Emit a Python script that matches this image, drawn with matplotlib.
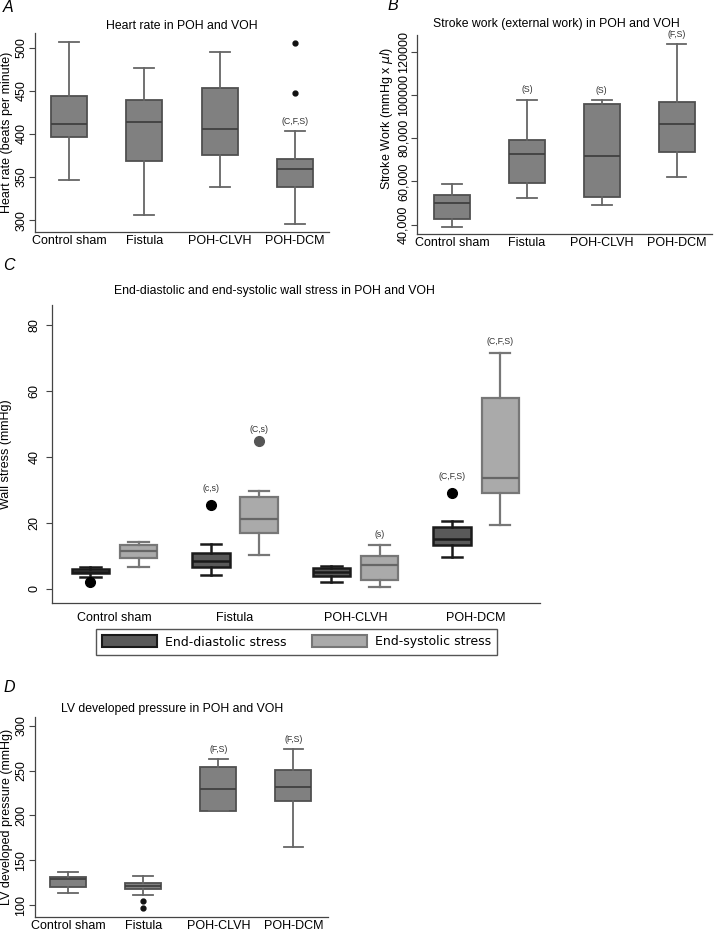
import matplotlib
matplotlib.use("Agg")
from matplotlib import pyplot as plt
from matplotlib.patches import Patch

plt.rcParams["font.family"] = ["Liberation Sans", "DejaVu Sans"]

GROUPS = ["Control sham", "Fistula", "POH-CLVH", "POH-DCM"]

# A - heart rate (beats per minute)
hr_whislo = [347, 306, 338, 296]
hr_q1 = [396, 369, 376, 338]
hr_med = [411, 414, 406, 359]
hr_q3 = [444, 439, 453, 371]
hr_whishi = [507, 477, 495, 403]
hr_fliers = [[], [], [], [447, 505]]
hr_notes = ["", "", "", "(C,F,S)"]

# B - stroke work (mmHg x ul)
sw_whislo = [39100, 52500, 49000, 62200]
sw_q1 = [42500, 59400, 52700, 73700]
sw_med = [49900, 72800, 71800, 86400]
sw_q3 = [53900, 79200, 95800, 96600]
sw_whishi = [58700, 97800, 97500, 123500]
sw_fliers = [[], [], [], []]
sw_notes = ["", "(S)", "(S)", "(F,S)"]

# C - wall stress (mmHg), end-diastolic
ed_whislo = [3.6, 4.2, 2.1, 9.7]
ed_q1 = [4.7, 6.7, 3.9, 13.2]
ed_med = [5.2, 8.5, 5.0, 15.0]
ed_q3 = [6.0, 10.9, 6.4, 18.7]
ed_whishi = [6.7, 13.6, 6.8, 20.6]
ed_fliers = [[2.0], [25.4], [], [29.1]]
ed_notes = ["", "(c,s)", "", "(C,F,S)"]

# C - wall stress (mmHg), end-systolic
es_whislo = [6.6, 10.1, 0.5, 19.4]
es_q1 = [9.2, 17.0, 2.6, 29.0]
es_med = [11.4, 21.2, 7.2, 33.6]
es_q3 = [13.3, 27.8, 9.9, 57.9]
es_whishi = [14.1, 29.6, 13.1, 71.6]
es_fliers = [[], [44.9], [], []]
es_notes = ["", "(C,s)", "(s)", "(C,F,S)"]

# D - LV developed pressure (mmHg)
lv_whislo = [113.0, 110.8, 204.5, 164.7]
lv_q1 = [120.1, 117.5, 204.5, 216.3]
lv_med = [129.4, 120.8, 229.0, 231.6]
lv_q3 = [131.2, 124.2, 253.9, 250.6]
lv_whishi = [136.8, 132.7, 262.5, 274.3]
lv_fliers = [[], [104.1, 96.3], [], []]
lv_notes = ["", "", "(F,S)", "(F,S)"]

W, H = 720, 939
GREY = "#808080"
EDGE = "#505050"


def make_stats(whislo, q1, med, q3, whishi, fliers):
    stats = []
    for i in range(len(med)):
        stats.append(dict(whislo=whislo[i], q1=q1[i], med=med[i], q3=q3[i],
                          whishi=whishi[i], fliers=fliers[i]))
    return stats


def add_axes(fig, left, top, right, bottom):
    return fig.add_axes([left / W, 1 - bottom / H, (right - left) / W, (bottom - top) / H])


def style_axes(ax, ylabel, title, title_x=0.5, title_pad=3):
    for side in ["top", "right"]:
        ax.spines[side].set_visible(False)
    for side in ["left", "bottom"]:
        ax.spines[side].set_color("#444444")
        ax.spines[side].set_linewidth(0.9)
    ax.tick_params(axis="x", length=0, labelsize=9, pad=2)
    ax.tick_params(axis="y", length=4, width=0.8, color="#444444", labelsize=9,
                   pad=1.5, labelrotation=90)
    plt.setp(ax.get_yticklabels(), va="center")
    ax.set_ylabel(ylabel, fontsize=9, labelpad=2)
    ax.set_title(title, fontsize=8.8, x=title_x, pad=title_pad)


def draw_boxes(ax, stats, positions, width, face, edge, lw, med_color, whisk_color,
               flier_color, flier_size):
    ax.bxp(stats, positions=positions, widths=width, capwidths=width * 0.55,
           patch_artist=True, showfliers=True,
           boxprops=dict(facecolor=face, edgecolor=edge, linewidth=lw),
           medianprops=dict(color=med_color, linewidth=lw),
           whiskerprops=dict(color=whisk_color, linewidth=lw),
           capprops=dict(color=whisk_color, linewidth=lw),
           flierprops=dict(marker="o", markerfacecolor=flier_color,
                           markeredgecolor=flier_color, markersize=flier_size))


def add_notes(ax, stats, positions, notes, offset=7, above_fliers=True):
    for s, x, note in zip(stats, positions, notes):
        if not note:
            continue
        top = s["whishi"]
        if above_fliers:
            top = max([top] + list(s["fliers"]))
        ax.annotate(note, (x, top), xytext=(0, offset), textcoords="offset points",
                    ha="center", va="center", fontsize=6.3, color="#333333")


def plot_simple(fig, box, data, notes, ylabel, title, ylim, yticks, yticklabels,
                xlim, title_x=0.5, title_pad=3, ylabel_y=0.5):
    ax = add_axes(fig, *box)
    stats = make_stats(*data)
    pos = [1, 2, 3, 4]
    draw_boxes(ax, stats, pos, 0.48, GREY, EDGE, 1.3, "#404040", "#666666",
               "#111111", 3.5)
    add_notes(ax, stats, pos, notes, above_fliers=False)
    ax.set_xlim(*xlim)
    ax.set_ylim(*ylim)
    ax.set_yticks(yticks)
    ax.set_yticklabels(yticklabels)
    ax.set_xticks(pos)
    ax.set_xticklabels(GROUPS)
    style_axes(ax, ylabel, title, title_x, title_pad)
    ax.yaxis.label.set_y(ylabel_y)
    return ax


def plot_wall_stress(fig):
    ax = add_axes(fig, 51.7, 305, 540, 602.7)
    ed = make_stats(ed_whislo, ed_q1, ed_med, ed_q3, ed_whishi, ed_fliers)
    es = make_stats(es_whislo, es_q1, es_med, es_q3, es_whishi, es_fliers)
    pos_ed = [i - 0.2 for i in range(4)]
    pos_es = [i + 0.2 for i in range(4)]
    draw_boxes(ax, ed, pos_ed, 0.31, "#595959", "#1a1a1a", 1.8, "#1a1a1a", "#1a1a1a",
               "#000000", 7)
    draw_boxes(ax, es, pos_es, 0.31, "#aaaaaa", "#777777", 1.6, "#666666", "#777777",
               "#555555", 7)
    add_notes(ax, ed, pos_ed, ed_notes, offset=12)
    add_notes(ax, es, pos_es, es_notes, offset=8)
    ax.set_xlim(-0.52, 3.53)
    ax.set_ylim(-4.25, 86)
    ax.set_yticks([0, 20, 40, 60, 80])
    ax.set_xticks(range(4))
    ax.set_xticklabels(GROUPS)
    style_axes(ax, "Wall stress (mmHg)", "End-diastolic and end-systolic wall stress in POH and VOH",
               title_x=0.457, title_pad=8)
    ax.tick_params(axis="x", pad=7)
    ax.tick_params(axis="y", pad=4)
    ax.yaxis.labelpad = 12

    handles = [Patch(facecolor="#595959", edgecolor="#1a1a1a", linewidth=1.5),
               Patch(facecolor="#aaaaaa", edgecolor="#777777", linewidth=1.5)]
    fig.legend(handles, ["End-diastolic stress", "End-systolic stress"],
               loc="upper left", bbox_to_anchor=(96 / W, 1 - 629 / H), ncol=2,
               fancybox=False, edgecolor="#555555", framealpha=1,
               prop={"family": "DejaVu Sans", "size": 9},
               handlelength=4.4, handleheight=1.1, handletextpad=0.65,
               columnspacing=2.0, borderpad=0.5, borderaxespad=0)


def main():
    fig = plt.figure(figsize=(W / 100, H / 100), dpi=100)

    plot_simple(fig, (35, 33, 329, 232),
                (hr_whislo, hr_q1, hr_med, hr_q3, hr_whishi, hr_fliers), hr_notes,
                "Heart rate (beats per minute)", "Heart rate in POH and VOH",
                (286.4, 517), [300, 350, 400, 450, 500],
                ["300", "350", "400", "450", "500"], (0.548, 4.45))

    plot_simple(fig, (417.3, 35, 711.7, 234),
                (sw_whislo, sw_q1, sw_med, sw_q3, sw_whishi, sw_fliers), sw_notes,
                r"Stroke Work (mmHg x $\mu l$)", "Stroke work (external work) in POH and VOH",
                (35700, 127700), [40000, 60000, 80000, 100000, 120000],
                ["40,000", "60,000", "80,000", "100000", "120000"], (0.532, 4.47),
                title_x=0.471, title_pad=6, ylabel_y=0.58)

    plot_wall_stress(fig)

    plot_simple(fig, (35, 717.3, 328, 917.3),
                (lv_whislo, lv_q1, lv_med, lv_q3, lv_whishi, lv_fliers), lv_notes,
                "LV developed pressure (mmHg)", "LV developed pressure in POH and VOH",
                (86.3, 309.4), [100, 150, 200, 250, 300],
                ["100", "150", "200", "250", "300"], (0.556, 4.46),
                title_x=0.468, title_pad=4)

    for letter, x, y in [("A", 3, 8), ("B", 387, 6), ("C", 3, 266), ("D", 3, 687)]:
        fig.text(x / W, 1 - y / H, letter, fontsize=11.5, style="italic",
                 ha="left", va="center")

    fig.savefig("out.png", dpi=100)


if __name__ == "__main__":
    main()
